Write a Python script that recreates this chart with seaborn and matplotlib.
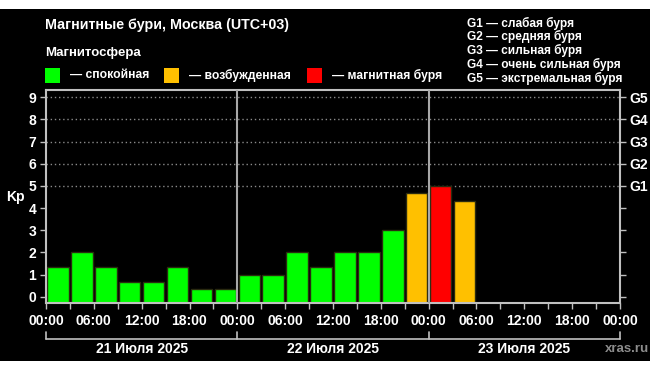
import matplotlib
matplotlib.use("Agg")
import matplotlib.pyplot as plt
import seaborn as sns
import pandas as pd
from matplotlib.patches import Rectangle
from matplotlib.lines import Line2D

# ---------------- data ----------------
interval_start_h = [0, 3, 6, 9, 12, 15, 18, 21,
                    24, 27, 30, 33, 36, 39, 42, 45,
                    48, 51]
kp_values = [1.33, 2.0, 1.33, 0.67, 0.67, 1.33, 0.33, 0.33,
             1.0, 1.0, 2.0, 1.33, 2.0, 2.0, 3.0, 4.67,
             5.0, 4.33]
status_names = ["спокойная", "возбужденная", "магнитная буря"]
status_colors = ["#00ff00", "#ffc000", "#ff0000"]
time_labels = ["00:00", "06:00", "12:00", "18:00"]
day_labels = ["21 Июля 2025", "22 Июля 2025", "23 Июля 2025"]
storm_kp = [5, 6, 7, 8, 9]
storm_labels = ["G1", "G2", "G3", "G4", "G5"]
storm_desc = ["слабая буря", "средняя буря", "сильная буря",
              "очень сильная буря", "экстремальная буря"]
kp_ticks = list(range(10))
hours_total = 72
step_h = 3


def classify(k):
    if k < 4:
        return status_names[0]
    if k < 5:
        return status_names[1]
    return status_names[2]


df = pd.DataFrame({
    "mid": [h + step_h / 2 for h in interval_start_h],
    "kp": kp_values,
    "status": [classify(k) for k in kp_values],
})

# ---------------- figure ----------------
sns.set_theme(style="dark")
plt.rcParams["font.family"] = ["Liberation Sans", "DejaVu Sans"]
plt.rcParams["font.weight"] = "bold"

W, H = 650, 371
fig = plt.figure(figsize=(W / 100, H / 100), dpi=100)
fig.patch.set_facecolor("white")
fig.patches.append(Rectangle((0, 10 / H), 1, 352 / H, transform=fig.transFigure,
                             facecolor="black", edgecolor="none", zorder=-10))

ax = fig.add_axes([46 / W, 1 - 303 / H, 574 / W, 213 / H])
ax.set_facecolor("black")

ylo, yhi = -0.28, 9.33

for y in storm_kp:
    ax.axhline(y, color="#8a8a8a", lw=1, ls=(0, (1, 2)), zorder=0.5)

sns.barplot(data=df, x="mid", y="kp", hue="status",
            palette=dict(zip(status_names, status_colors)),
            hue_order=status_names, native_scale=True, dodge=False,
            width=0.9, saturation=1, edgecolor="#2a2a10", linewidth=1,
            legend=False, ax=ax, zorder=2)

for p in ax.patches:
    h = p.get_height()
    p.set_y(ylo)
    p.set_height(h - ylo)

for d in (24, 48):
    ax.axvline(d, color="#a8a8a8", lw=1.5, zorder=3)

ax.set_xlim(0, hours_total)
ax.set_ylim(ylo, yhi)
ax.set_xlabel("")
ax.set_ylabel("")
ax.grid(False)

xt = list(range(0, hours_total + 1, step_h))
ax.set_xticks(xt)
ax.set_xticklabels([time_labels[(h // 6) % 4] if h % 6 == 0 else "" for h in xt],
                   color="white", fontsize=10, fontweight="bold")
ax.set_yticks(kp_ticks)
ax.set_yticklabels([str(k) for k in kp_ticks], color="white",
                   fontsize=10, fontweight="bold")
ax.tick_params(axis="both", which="both", direction="out", length=4, width=1,
               color="#c0c0c0", bottom=True, left=True)
ax.tick_params(axis="x", pad=4)
ax.tick_params(axis="y", pad=3)
for s in ax.spines.values():
    s.set_color("#c0c0c0")
    s.set_linewidth(1.5)
    s.set_visible(True)

ax2 = ax.twinx()
ax2.set_ylim(ylo, yhi)
ax2.set_yticks(kp_ticks)
ax2.set_yticklabels(["" for _ in range(5)] + storm_labels, color="white",
                    fontsize=10, fontweight="bold")
ax2.tick_params(axis="y", direction="out", length=4, width=1, color="#c0c0c0",
                right=True, pad=3)
ax2.grid(False)
for s in ax2.spines.values():
    s.set_visible(False)

# day brackets
trans = ax.get_xaxis_transform()
yb_h = (303 - 339) / 213
yb_t = (303 - 332) / 213
ax.add_line(Line2D([0, hours_total], [yb_h, yb_h], transform=trans,
                   color="#c0c0c0", lw=1.2, clip_on=False))
for d in range(0, hours_total + 1, 24):
    ax.add_line(Line2D([d, d], [yb_t, yb_h], transform=trans,
                       color="#c0c0c0", lw=1.2, clip_on=False))
for i, lbl in enumerate(day_labels):
    ax.text(12 + 24 * i, (303 - 349) / 213, lbl, transform=trans, ha="center",
            va="center", color="white", fontsize=10, fontweight="bold")

# header texts
fig.text(45 / W, 1 - 25 / H, "Магнитные бури, Москва (UTC+03)", color="white",
         fontsize=10.3, fontweight="bold", va="center", ha="left")
fig.text(45 / W, 1 - 53 / H, "Магнитосфера", color="white",
         fontsize=9.5, fontweight="bold", va="center", ha="left")

sq_x = [45, 164, 307]
for x0, c, name in zip(sq_x, status_colors, status_names):
    fig.patches.append(Rectangle((x0 / W, 1 - 83 / H), 15 / W, 15 / H,
                                 transform=fig.transFigure, facecolor=c,
                                 edgecolor="none"))
    fig.text((x0 + 25) / W, 1 - 75.5 / H, "— " + name, color="white",
             fontsize=8.7, fontweight="bold", va="center", ha="left")

for i, (g, dsc) in enumerate(zip(storm_labels, storm_desc)):
    fig.text(467 / W, 1 - (23 + 13.8 * i) / H, f"{g} — {dsc}", color="white",
             fontsize=8.6, fontweight="bold", va="center", ha="left")

fig.text(15 / W, 1 - 197 / H, "Kp", color="white", fontsize=10,
         fontweight="bold", va="center", ha="center")
fig.text(649 / W, 1 - 349 / H, "xras.ru", color="#8c8c8c", fontsize=9.5,
         fontweight="bold", va="center", ha="right")

fig.savefig("out.png", dpi=100, facecolor=fig.get_facecolor())
